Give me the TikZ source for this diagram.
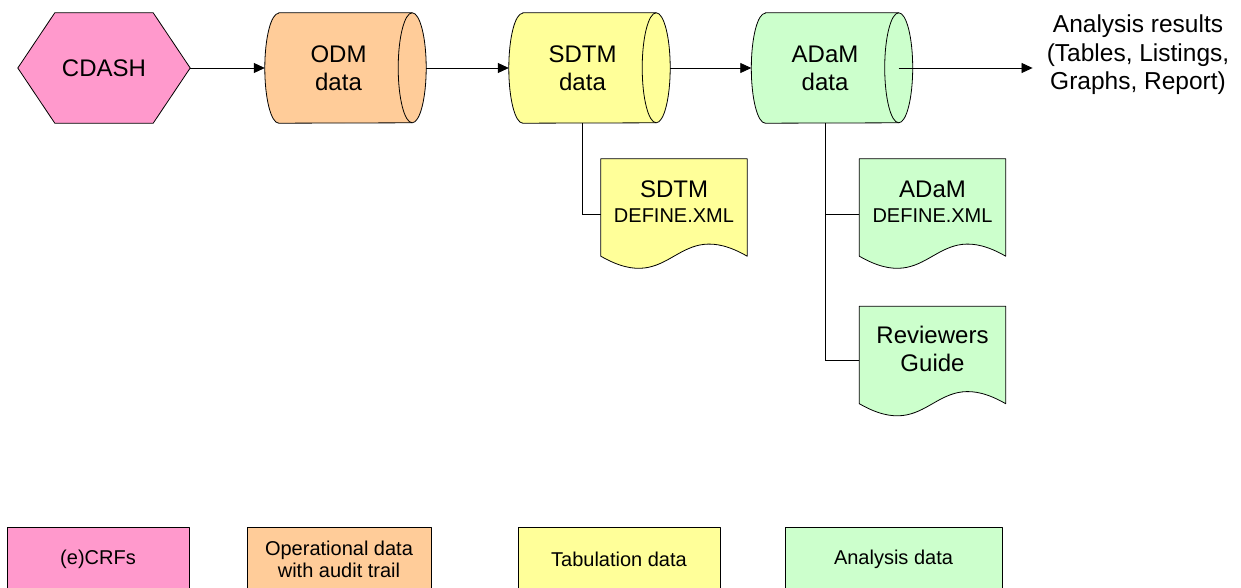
\documentclass[tikz,border=0pt]{standalone}
\usepackage{fontspec}
\setmainfont{Liberation Sans}
\usetikzlibrary{arrows.meta,backgrounds}

\definecolor{crfpink}{HTML}{FF99CC}
\definecolor{odmorange}{HTML}{FFCC99}
\definecolor{sdtmyellow}{HTML}{FFFF99}
\definecolor{adamgreen}{HTML}{CCFFCC}

\tikzset{
  outline/.style={draw=black, line width=0.8pt, line join=round},
  holder/.style={draw=none, inner sep=0pt, align=center, font=\fontsize{24}{28}\selectfont},
  cylbox/.style={holder, minimum width=147pt, minimum height=110pt},
  hexbox/.style={holder, minimum width=172pt, minimum height=110pt},
  docbox/.style={holder, minimum width=146pt, minimum height=85pt},
  legendbox/.style={outline, inner sep=0pt, align=center,
    font=\fontsize{20}{22}\selectfont, minimum height=64pt},
  flow/.style={draw=black, line width=0.8pt, -{Triangle[length=11pt,width=10pt]}},
  link/.style={draw=black, line width=0.8pt},
}

% horizontal data store: half ellipse on the left, full ellipse on the right
\newcommand\cylshape[2]{%
  \path[outline, fill=#2] ([xshift=14pt]#1.north west) -- (#1.north east)
    arc[start angle=90, end angle=-90, x radius=14pt, y radius=55pt]
    -- ([xshift=14pt]#1.south west)
    arc[start angle=270, end angle=90, x radius=14pt, y radius=55pt] -- cycle;
  \draw[outline] (#1.north east)
    arc[start angle=90, end angle=270, x radius=14pt, y radius=55pt];}

% document sheet with a wavy lower edge
\newcommand\docshape[2]{%
  \path[outline, fill=#2] (#1.north west) -- (#1.north east)
    -- ([yshift=-12pt]#1.south east)
    .. controls ([xshift=-73pt,yshift=30pt]#1.south east)
       and ([xshift=73pt,yshift=-54pt]#1.south west) ..
    ([yshift=-12pt]#1.south west) -- cycle;}

\begin{document}
\begin{tikzpicture}[x=1pt, y=-1pt]
\useasboundingbox (0,0) rectangle (1241,588);

% main flow
\node[hexbox] (cdash) at (104,68) {CDASH};
\node[cylbox] (odm) at (338.5,68) {ODM\\data};
\node[cylbox] (sdtm) at (582.5,68) {SDTM\\data};
\node[cylbox] (adam) at (825,68) {ADaM\\data};
\node[holder, font=\fontsize{24.5}{28.5}\selectfont, inner xsep=14pt] (results)
  at (1138,55) {Analysis results\\(Tables, Listings,\\Graphs, Report)};

% documents
\node[docbox] (sdtmdef) at (674,201.5)
  {SDTM\\[-3pt]{\fontsize{20}{24}\selectfont DEFINE.XML}};
\node[docbox] (adamdef) at (932.5,201.5)
  {ADaM\\[-3pt]{\fontsize{20}{24}\selectfont DEFINE.XML}};
\node[docbox] (guide) at (932.5,349) {Reviewers\\Guide};

% legend
\node[legendbox, fill=crfpink, minimum width=182pt] (lcrf) at (98,559) {(e)CRFs};
\node[legendbox, fill=odmorange, minimum width=184pt] (lodm) at (339,559)
  {Operational data\\with audit trail};
\node[legendbox, fill=sdtmyellow, minimum width=202pt] (lsdtm) at (619,559)
  {Tabulation data};
\node[legendbox, fill=adamgreen, minimum width=217pt] (ladam) at (893.5,559)
  {Analysis data};

\begin{scope}[on background layer]
  \path[outline, fill=crfpink] (cdash.west) -- ([xshift=37pt]cdash.north west)
    -- ([xshift=-37pt]cdash.north east) -- (cdash.east)
    -- ([xshift=-37pt]cdash.south east) -- ([xshift=37pt]cdash.south west) -- cycle;
  \cylshape{odm}{odmorange}
  \cylshape{sdtm}{sdtmyellow}
  \cylshape{adam}{adamgreen}
  \docshape{sdtmdef}{sdtmyellow}
  \docshape{adamdef}{adamgreen}
  \docshape{guide}{adamgreen}
\end{scope}

% connectors
\draw[flow] (cdash.east) -- (odm.west);
\draw[flow] ([xshift=14pt]odm.east) -- (sdtm.west);
\draw[flow] ([xshift=14pt]sdtm.east) -- (adam.west);
\draw[flow] (adam.east) -- (adam.east -| results.west);
\draw[link] (sdtm.south) |- ([yshift=-12.5pt]sdtmdef.west);
\draw[link] (adam.south) |- ([yshift=-11pt]guide.west);
\draw[link] ([yshift=-12.5pt]adamdef.west) -| (adam.south);
\end{tikzpicture}
\end{document}
